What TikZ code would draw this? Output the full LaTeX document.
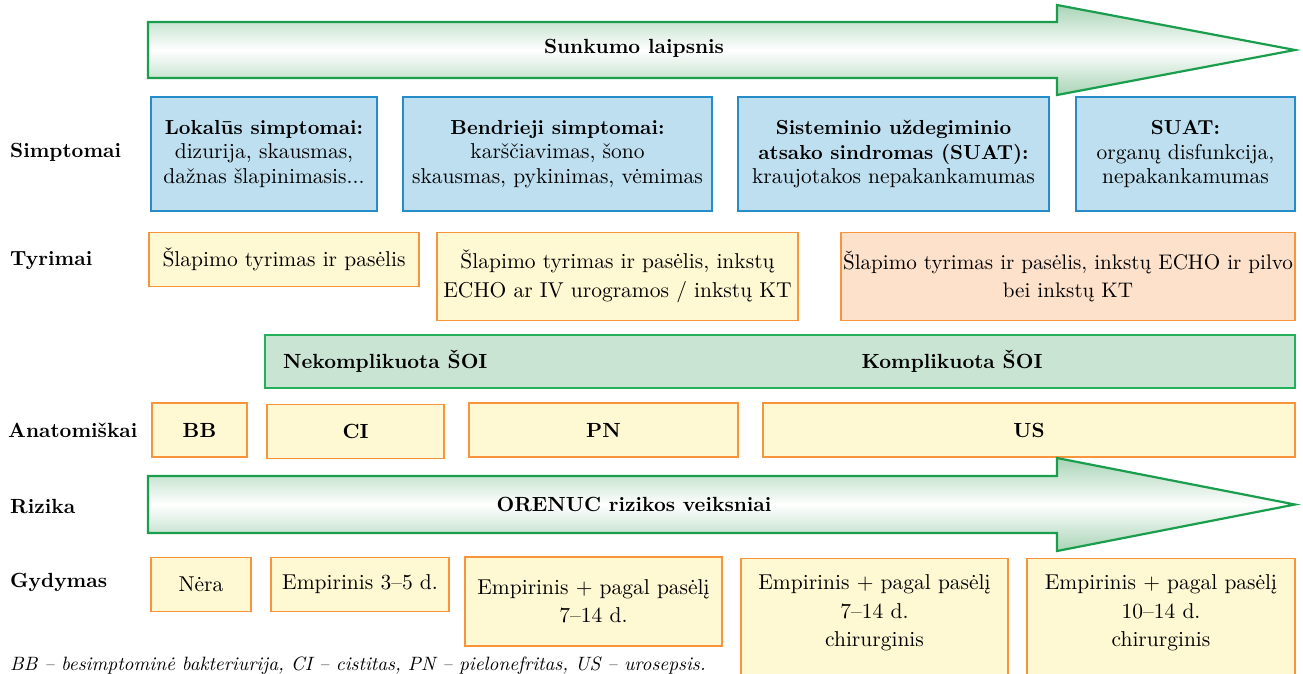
\documentclass[tikz,border=0pt]{standalone}
\usepackage{fontspec}
\setmainfont{lmroman10-regular.otf}[BoldFont=lmroman10-bold.otf, ItalicFont=lmroman10-italic.otf, BoldItalicFont=lmroman10-bolditalic.otf]
\usetikzlibrary{calc}
\definecolor{bluefill}{RGB}{190,223,239}
\definecolor{blueline}{RGB}{38,140,200}
\definecolor{yellowfill}{RGB}{255,249,211}
\definecolor{orangeline}{RGB}{247,148,60}
\definecolor{peachfill}{RGB}{253,225,203}
\definecolor{bandfill}{RGB}{202,228,212}
\definecolor{bandline}{RGB}{34,176,90}
\definecolor{arrline}{RGB}{26,158,78}
\definecolor{arrfill}{RGB}{168,212,182}
\newcommand\boxhead[1]{{\fontsize{20.3}{24.5}\selectfont\bfseries #1}}
\tikzset{
  txt/.style={font=\fontsize{21.5}{28.5}\selectfont, align=center, inner sep=1pt},
  lbl/.style={font=\fontsize{20.5}{24}\selectfont\bfseries, anchor=west, inner sep=0pt},
  bluebox/.style={txt, draw=blueline, fill=bluefill, line width=1.2pt, font=\fontsize{21.5}{24.5}\selectfont},
  yellowbox/.style={txt, draw=orangeline, fill=yellowfill, line width=1.3pt},
  peachbox/.style={txt, draw=orangeline, fill=peachfill, line width=1.3pt},
  bandbox/.style={draw=bandline, fill=bandfill, line width=1.3pt, inner sep=0pt},
  bigarrow/.style={draw=arrline, line width=2.2pt, line join=miter, top color=arrfill, bottom color=arrfill, middle color=white},
  boldtxt/.style={font=\fontsize{20.5}{24}\selectfont\bfseries, inner sep=0pt},
}
\begin{document}
\begin{tikzpicture}[x=1pt,y=-1pt]
\useasboundingbox (0,0) rectangle (1303,673);
\clip (0,0) rectangle (1303,673);

% top arrow
\draw[bigarrow] (148,22) -- (1057,22) -- (1057,5) -- (1295,50) -- (1057,95) -- (1057,78) -- (148,78) -- cycle;
\node[boldtxt] (sev) at (634,48) {Sunkumo laipsnis};

% row labels
\node[lbl] (lsim) at (10,152) {Simptomai};
\node[lbl] (ltyr) at (10,261) {Tyrimai};
\node[lbl] (lana) at (8,430) {Anatomiškai};
\node[lbl] (lriz) at (10,506) {Rizika};
\node[lbl] (lgyd) at (10,582) {Gydymas};

% symptoms
\node[bluebox, minimum width=226, minimum height=114] (s1) at (264,154)
  {\boxhead{Lokalūs simptomai:}\\dizurija, skausmas,\\dažnas šlapinimasis...};
\node[bluebox, minimum width=309, minimum height=114] (s2) at (557.5,154)
  {\boxhead{Bendrieji simptomai:}\\karščiavimas, šono\\skausmas, pykinimas, vėmimas};
\node[bluebox, minimum width=311, minimum height=114] (s3) at (893.5,154)
  {\boxhead{Sisteminio uždegiminio}\\\boxhead{atsako sindromas (SUAT):}\\kraujotakos nepakankamumas};
\node[bluebox, minimum width=219, minimum height=114] (s4) at (1185.5,154)
  {\boxhead{SUAT:}\\organų disfunkcija,\\nepakankamumas};

% tests
\node[yellowbox, minimum width=270, minimum height=54] (t1) at (284,259.5)
  {Šlapimo tyrimas ir pasėlis};
\node[yellowbox, minimum width=361, minimum height=88] (t2) at (617.5,276.5)
  {Šlapimo tyrimas ir pasėlis, inkstų\\ECHO ar IV urogramos / inkstų KT};
\node[peachbox, minimum width=454, minimum height=88, inner sep=0.5pt, font=\fontsize{21.1}{28.5}\selectfont] (t3) at (1068,276.5)
  {Šlapimo tyrimas ir pasėlis, inkstų ECHO ir pilvo\\bei inkstų KT};

% band
\node[bandbox, minimum width=1030, minimum height=53] (band) at (780,361.5) {};
\node[boldtxt, anchor=west] (nek) at (283,361) {Nekomplikuota ŠOI};
\node[boldtxt] (kom) at (952,361) {Komplikuota ŠOI};

% anatomy
\node[yellowbox, minimum width=95, minimum height=54, font=\fontsize{20.5}{24}\selectfont\bfseries] (bb) at (199.5,430) {BB};
\node[yellowbox, minimum width=177, minimum height=54, font=\fontsize{20.5}{24}\selectfont\bfseries] (ci) at (355.5,431.5) {CI};
\node[yellowbox, minimum width=269, minimum height=54, font=\fontsize{20.5}{24}\selectfont\bfseries] (pn) at (603.5,430) {PN};
\node[yellowbox, minimum width=532, minimum height=54, font=\fontsize{20.5}{24}\selectfont\bfseries] (us) at (1029,430) {US};

% risk arrow
\draw[bigarrow] (148,476) -- (1057,476) -- (1057,458) -- (1295,504.5) -- (1057,551) -- (1057,533) -- (148,533) -- cycle;
\node[boldtxt] (orenuc) at (634,504) {ORENUC rizikos veiksniai};

% treatment
\node[yellowbox, minimum width=100, minimum height=54] (g1) at (201,584.5) {Nėra};
\node[yellowbox, minimum width=178, minimum height=54] (g2) at (360,584.5) {Empirinis 3–5 d.};
\node[yellowbox, minimum width=257, minimum height=89] (g3) at (593.5,601.5)
  {Empirinis + pagal pasėlį\\7–14 d.};
\node[yellowbox, minimum width=267, minimum height=150, anchor=north] (g4) at (874.5,558) {};
\node[txt] (g4t) at (874.5,613) {Empirinis + pagal pasėlį\\7–14 d.\\chirurginis};
\node[yellowbox, minimum width=268, minimum height=150, anchor=north] (g5) at (1161,558) {};
\node[txt] (g5t) at (1161,613) {Empirinis + pagal pasėlį\\10–14 d.\\chirurginis};

% footer
\node[anchor=base west, inner sep=0pt, font=\fontsize{19.3}{22}\selectfont\itshape] (foot) at (10,670)
  {BB – besimptominė bakteriurija, CI – cistitas, PN – pielonefritas, US – urosepsis.};
\end{tikzpicture}
\end{document}
